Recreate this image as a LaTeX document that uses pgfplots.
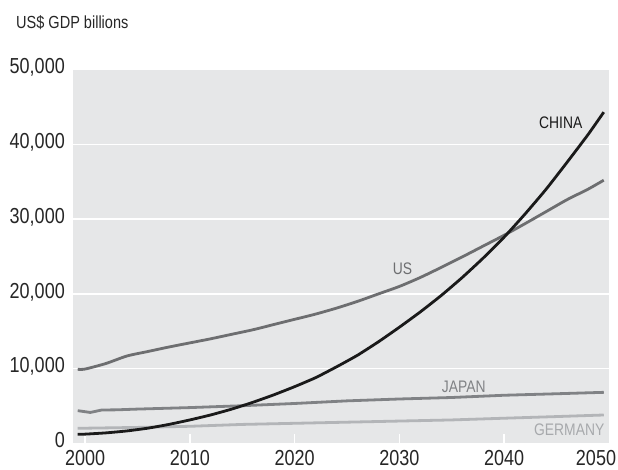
\documentclass[border=0pt]{standalone}
\usepackage{fontspec}
\setmainfont{Liberation Sans}[FakeStretch=0.83]
\usepackage{pgfplots}
\pgfplotsset{compat=1.18}
\definecolor{bgcol}{HTML}{E6E7E8}
\definecolor{chinacol}{HTML}{1A1A1A}
\definecolor{uscol}{HTML}{6D6E70}
\definecolor{japancol}{HTML}{808285}
\definecolor{gercol}{HTML}{B3B5B8}
\definecolor{gerlab}{HTML}{A7A9AC}
\begin{document}
\begin{tikzpicture}[x=1pt,y=1pt]
\useasboundingbox (0,0) rectangle (618,470);
\begin{axis}[
  at={(73pt,26.5pt)}, anchor=south west,
  scale only axis, width=536pt, height=374pt,
  xmin=1998.85, xmax=2050, ymin=0, ymax=50000,
  axis background/.style={fill=bgcol},
  axis line style={draw=none},
  scaled y ticks=false, scaled x ticks=false,
  xtick={2000,2010,2020,2030,2040},
  xticklabels={2000,2010,2020,2030,2040},
  extra x ticks={2050}, extra x tick labels={2050},
  extra x tick style={major tick length=0pt, xticklabel style={xshift=-13pt}},
  xtick pos=left, tick align=inside,
  xtick style={white, line width=1.5pt},
  major tick length=9.5pt,
  ytick={0,10000,20000,30000,40000,50000},
  yticklabels={0,{10,000},{20,000},{30,000},{40,000},{50,000}},
  ytick style={draw=none},
  ymajorgrids, grid style={white, line width=1.3pt},
  xticklabel style={anchor=base, inner sep=0pt, yshift=-22.5pt, font=\fontsize{21.7}{24}\selectfont, color=black!85},
  yticklabel style={anchor=base east, inner sep=0pt, xshift=-8pt, yshift=-4.3pt, font=\fontsize{21.7}{24}\selectfont, color=black!85},
  clip=false,
]
% Germany
\addplot[gercol, line width=2.8pt, line join=round] coordinates {
(1999.3,2030) (2005,2150) (2010,2300) (2015,2550) (2020,2700) (2025,2850)
(2030,3000) (2035,3150) (2040,3380) (2045,3600) (2049.5,3810)};
% Japan
\addplot[japancol, line width=2.8pt, line join=round] coordinates {
(1999.3,4390) (2000.5,4150) (2001.6,4480) (2003,4500) (2005,4600) (2010,4800)
(2015,5050) (2020,5350) (2025,5700) (2030,5950) (2035,6150) (2040,6450)
(2045,6650) (2049.5,6840)};
% US
\addplot[uscol, line width=2.8pt, smooth, tension=0.4] coordinates {
(1999.3,9920) (2000,9950) (2002,10700) (2004,11700) (2006,12300) (2008,12900)
(2010,13450) (2012,14000) (2014,14600) (2016,15200) (2018,15900) (2020,16600)
(2022,17300) (2024,18100) (2026,19000) (2028,20000) (2030,21000) (2032,22200)
(2034,23550) (2036,24950) (2038,26400) (2040,27850) (2042,29400) (2044,31000)
(2046,32600) (2048,34000) (2049.5,35200)};
% China
\addplot[chinacol, line width=2.8pt, smooth, tension=0.3] coordinates {
(1999.3,1230) (2000,1250) (2002,1420) (2004,1680) (2006,2050) (2008,2550)
(2010,3150) (2012,3820) (2014,4600) (2016,5500) (2018,6500) (2020,7600)
(2022,8800) (2024,10250) (2026,11800) (2028,13600) (2030,15550) (2032,17600)
(2034,19800) (2036,22200) (2038,24800) (2040,27600) (2042,30700) (2044,34000)
(2046,37600) (2048,41300) (2049.5,44300)};
\end{axis}
\node[anchor=base west, inner sep=0pt, font=\fontsize{17.5}{20}\selectfont, color=black!85] at (16,441) {US\$ GDP billions};
\node[anchor=base west, inner sep=0pt, font=\fontsize{16.7}{19}\selectfont, color=chinacol] at (539,341.7) {CHINA};
\node[anchor=base west, inner sep=0pt, font=\fontsize{16.7}{19}\selectfont, color=uscol] at (392.7,195) {US};
\node[anchor=base west, inner sep=0pt, font=\fontsize{16.7}{19}\selectfont, color=japancol] at (441.7,77.3) {JAPAN};
\node[anchor=base west, inner sep=0pt, font=\fontsize{16.7}{19}\selectfont, color=gerlab] at (534,34) {GERMANY};
\end{tikzpicture}
\end{document}
